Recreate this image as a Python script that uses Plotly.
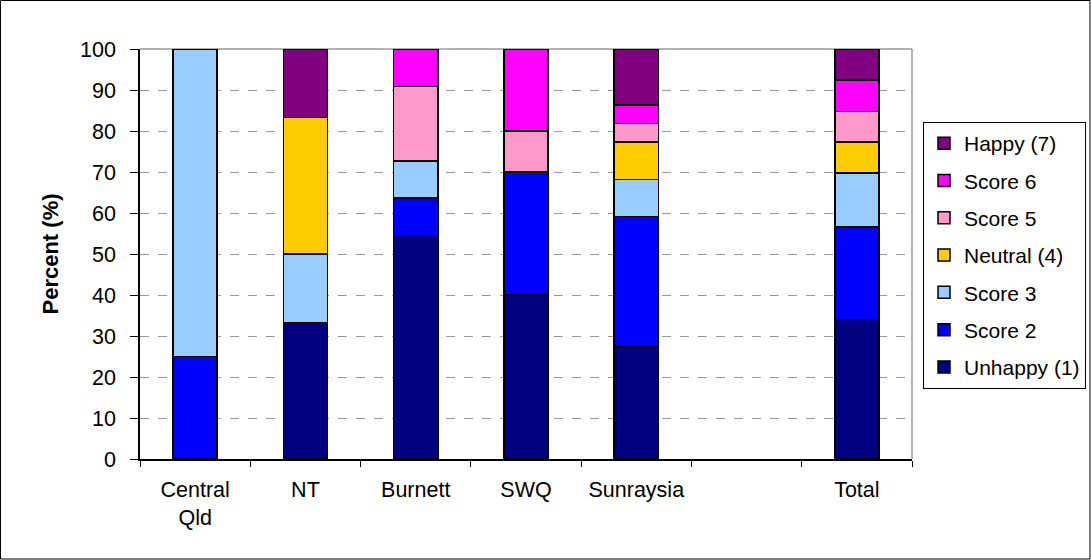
import plotly.graph_objects as go

categories = ["Central<br>Qld", "NT", "Burnett", "SWQ", "Sunraysia", " ", "Total"]

unhappy_1 = [0, 33.3, 54.5, 40.0, 27.3, None, 34.0]
score_2 = [25.0, 0, 9.1, 30.0, 31.8, None, 22.6]
score_3 = [75.0, 16.7, 9.1, 0, 9.1, None, 13.2]
neutral_4 = [0, 33.3, 0, 0, 9.1, None, 7.5]
score_5 = [0, 0, 18.2, 10.0, 4.5, None, 7.5]
score_6 = [0, 0, 9.1, 20.0, 4.5, None, 7.6]
happy_7 = [0, 16.7, 0, 0, 13.7, None, 7.6]

series = [
    ("Unhappy (1)", unhappy_1, "#000080"),
    ("Score 2", score_2, "#0000FF"),
    ("Score 3", score_3, "#99CCFF"),
    ("Neutral (4)", neutral_4, "#FFCC00"),
    ("Score 5", score_5, "#FF99CC"),
    ("Score 6", score_6, "#FF00FF"),
    ("Happy (7)", happy_7, "#800080"),
]

FONT = "Arial, Liberation Sans, sans-serif"

fig = go.Figure()
n = len(series)
for i, (name, vals, color) in enumerate(series):
    fig.add_trace(go.Bar(
        x=categories, y=vals, name=name, legendgroup=name,
        legendrank=n - i,
        marker=dict(color=color, line=dict(color="black", width=1.5)),
    ))

W, H = 1091, 560
L, R, T, B = 140, 912, 49, 459

def px(p):
    return (p - L) / (R - L)

def py(p):
    return (B - p) / (B - T)

fig.update_layout(
    width=W, height=H,
    margin=dict(l=L, r=W - R, t=T, b=H - B, autoexpand=False),
    barmode="stack", bargap=0.6,
    plot_bgcolor="white", paper_bgcolor="white",
    font=dict(family=FONT, size=21, color="black"),
    showlegend=True,
    legend=dict(
        xref="container", yref="container",
        x=923 / W, y=1 - 122 / H, xanchor="left", yanchor="top",
        bordercolor="black", borderwidth=1, bgcolor="white",
        traceorder="grouped", tracegroupgap=7, itemwidth=30,
        font=dict(size=21),
    ),
    xaxis=dict(
        type="category", showline=True, linecolor="black", linewidth=1.5,
        ticks="outside", tickson="boundaries", ticklen=6, tickcolor="black",
        showgrid=False, tickfont=dict(size=21.5), ticklabelstandoff=10,
    ),
    yaxis=dict(
        range=[0, 100], dtick=10, showline=True, linecolor="black", linewidth=1.5,
        ticks="outside", ticklen=8, tickcolor="black",
        showgrid=True, gridcolor="#999999", griddash="dash", gridwidth=1,
        zeroline=False, tickfont=dict(size=21.5), ticklabelstandoff=10,
        title=dict(text="<b>Percent (%)</b>", font=dict(size=22), standoff=15),
    ),
    shapes=[
        dict(type="line", xref="paper", yref="paper", x0=0, x1=1, y0=1, y1=1,
             line=dict(color="#999999", width=1.5), layer="below"),
        dict(type="line", xref="paper", yref="paper", x0=1, x1=1, y0=0, y1=1,
             line=dict(color="#999999", width=1.5), layer="below"),
        dict(type="rect", xref="paper", yref="paper",
             x0=px(0.5), x1=px(1090), y0=py(0.5), y1=py(559),
             line=dict(color="black", width=1), fillcolor="rgba(0,0,0,0)"),
    ],
)

fig.write_html(
    "out.html",
    config={"displayModeBar": False},
    post_script="document.body.style.margin='0';document.body.style.overflow='hidden';",
)
